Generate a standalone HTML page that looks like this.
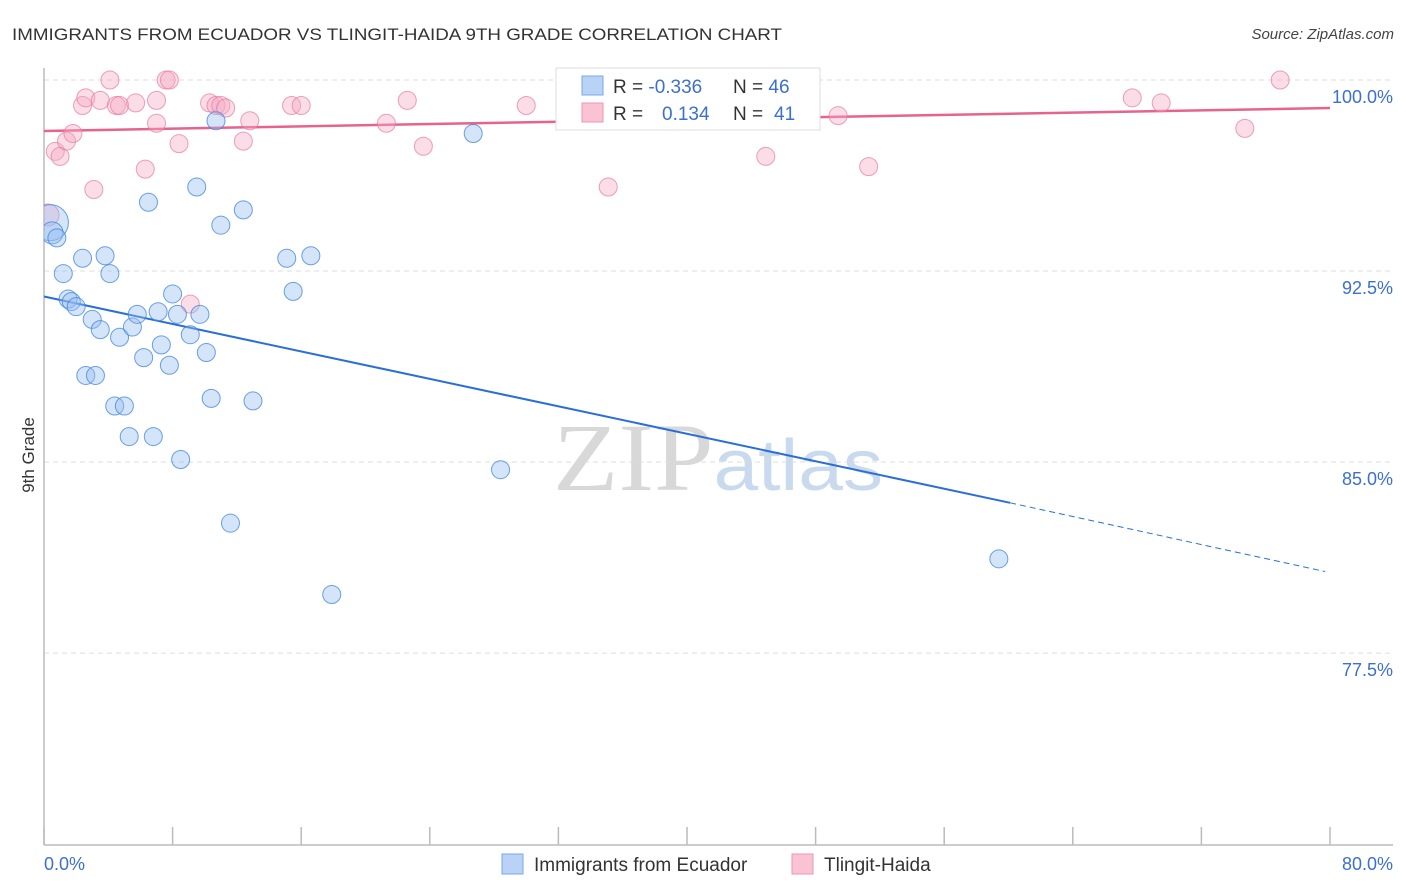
<!DOCTYPE html>
<html><head><meta charset="utf-8">
<style>
body{margin:0;background:#fff;font-family:"Liberation Sans",sans-serif;}
svg{display:block}
</style></head>
<body>
<svg id="chart" width="1406" height="892" viewBox="0 0 1406 892">
<defs><clipPath id="plot"><rect x="44" y="60" width="1360" height="785"/></clipPath></defs>
<text x="12" y="40" font-size="17" fill="#333" textLength="770" lengthAdjust="spacingAndGlyphs">IMMIGRANTS FROM ECUADOR VS TLINGIT-HAIDA 9TH GRADE CORRELATION CHART</text>
<text x="1394" y="39" font-size="15" fill="#444" font-style="italic" text-anchor="end">Source: ZipAtlas.com</text>
<text x="718" y="490" font-size="96" fill="#ddd" text-anchor="middle" font-family="Liberation Serif,serif" textLength="330" lengthAdjust="spacingAndGlyphs"><tspan fill="#d8d8d8">ZIP</tspan><tspan fill="#c9d9ee" font-family="Liberation Sans,sans-serif" font-size="72">atlas</tspan></text>
<g id="grid"></g>
<g id="axes"></g>
<g id="trends"></g>
<g id="points" clip-path="url(#plot)"></g>
<text transform="translate(34,455) rotate(-90)" font-size="17" fill="#333" text-anchor="middle">9th Grade</text>
<text x="44" y="870" font-size="18" fill="#3b6fd1">0.0%</text>
<text x="1393" y="870" font-size="18" fill="#3b6fd1" text-anchor="end">80.0%</text>
<g>
<rect x="556" y="68" width="264" height="62" fill="#fff" stroke="#ddd"/>
<rect x="582" y="76" width="21" height="19" fill="#b8d3f5" stroke="#7aa7e8"/>
<rect x="582" y="103" width="21" height="19" fill="#f9c3d3" stroke="#ef94b1"/>
<text x="613" y="93" font-size="19" fill="#333">R = <tspan fill="#3b6fd1">-0.336</tspan><tspan x="733">N = </tspan><tspan fill="#3b6fd1">46</tspan></text>
<text x="613" y="120" font-size="19" fill="#333">R = <tspan x="662" fill="#3b6fd1">0.134</tspan><tspan x="733">N = </tspan><tspan x="774" fill="#3b6fd1">41</tspan></text>
</g>
<g>
<rect x="502" y="854" width="21" height="20" fill="#b8d3f5" stroke="#7aa7e8"/>
<text x="534" y="871" font-size="19" fill="#333">Immigrants from Ecuador</text>
</g>
<g>
<rect x="792" y="854" width="21" height="20" fill="#f9c3d3" stroke="#ef94b1"/>
<text x="824" y="871" font-size="19" fill="#333">Tlingit-Haida</text>
</g>
</svg>
<script>
const yTicks=[100,92.5,85,77.5];
const yTickLabels=["100.0%","92.5%","85.0%","77.5%"];
const xTicks=[0,8,16,24,32,40,48,56,64,72,80];
const blueX=[0.4,0.5,0.8,1.2,2.4,3.8,4.1,1.5,1.7,2.0,3.0,3.5,4.7,5.5,5.8,7.1,8.0,8.3,9.7,9.1,7.3,6.2,7.8,10.1,2.6,3.2,4.4,5.0,5.3,6.8,8.5,10.4,13.0,11.6,17.9,6.5,9.5,11.0,12.4,10.7,15.1,16.6,15.5,26.7,28.4,59.4];
const blueY=[94.4,94.0,93.8,92.4,93.0,93.1,92.4,91.4,91.3,91.1,90.6,90.2,89.9,90.3,90.8,90.9,91.6,90.8,90.8,90.0,89.6,89.1,88.8,89.3,88.4,88.4,87.2,87.2,86.0,86.0,85.1,87.5,87.4,82.6,79.8,95.2,95.8,94.3,94.9,98.4,93.0,93.1,91.7,97.9,84.7,81.2];
const blueR=[18,11,9,9,9,9,9,9,9,9,9,9,9,9,9,9,9,9,9,9,9,9,9,9,9,9,9,9,9,9,9,9,9,9,9,9,9,9,9,9,9,9,9,9,9,9];
const pinkX=[0.25,0.7,1.0,1.4,1.8,3.1,2.4,2.6,3.5,4.5,4.7,5.7,4.1,6.3,7.0,7.0,7.6,7.8,8.4,9.1,10.3,10.7,11.0,11.3,12.4,12.8,15.4,16.0,21.3,22.6,23.6,30.0,35.1,36.6,44.9,49.4,51.3,67.7,69.5,74.7,76.9];
const pinkY=[94.7,97.2,97.0,97.6,97.9,95.7,99.0,99.3,99.2,99.0,99.0,99.1,100.0,96.5,99.2,98.3,100.0,100.0,97.5,91.2,99.1,99.0,99.0,98.9,97.6,98.4,99.0,99.0,98.3,99.2,97.4,99.0,95.8,100.0,97.0,98.6,96.6,99.3,99.1,98.1,100.0];
const blueTrend=[0,91.5,60.1,83.4,79.7,80.7];
const pinkTrend=[0,98.0,80,98.9];
const X=v=>44+v*16.075, Y=v=>80+(100-v)*25.47;
const NS="http://www.w3.org/2000/svg";
function mk(tag,attrs,parent){const e=document.createElementNS(NS,tag);for(const k in attrs)e.setAttribute(k,attrs[k]);parent.appendChild(e);return e;}
const grid=document.getElementById('grid'),axes=document.getElementById('axes'),tr=document.getElementById('trends'),pts=document.getElementById('points');
yTicks.forEach((t,i)=>{
 const l=mk('line',{x1:44,x2:1393,y1:Y(t),y2:Y(t),stroke:'#ddd','stroke-dasharray':'5,4'},grid);
 
 
 const tx=mk('text',{x:1393,y:Y(t)+23,'font-size':18,fill:'#3b6fd1','text-anchor':'end'},grid);
 tx.textContent=yTickLabels[i];
 
 
});
const ax=mk('line',{x1:44,x2:1393,y1:845,y2:845,stroke:'#bbb','stroke-width':1.5},axes);


const ay=mk('line',{x1:44,x2:44,y1:68,y2:845,stroke:'#bbb','stroke-width':1.5},axes);


xTicks.forEach(t=>{
 const l=mk('line',{x1:X(t),x2:X(t),y1:827,y2:845,stroke:'#bbb','stroke-width':1.5},axes);
 
 
});
const bt1=mk('line',{x1:X(blueTrend[0]),y1:Y(blueTrend[1]),x2:X(blueTrend[2]),y2:Y(blueTrend[3]),stroke:'#2a6fd6','stroke-width':2},tr);


const bt2=mk('line',{x1:X(blueTrend[2]),y1:Y(blueTrend[3]),x2:X(blueTrend[4]),y2:Y(blueTrend[5]),stroke:'#2a6fd6','stroke-width':1,'stroke-dasharray':'6,4'},tr);


const pt=mk('line',{x1:X(pinkTrend[0]),y1:Y(pinkTrend[1]),x2:X(pinkTrend[2]),y2:Y(pinkTrend[3]),stroke:'#e8638c','stroke-width':2.5},tr);


pinkX.forEach((x,i)=>{
 const c=mk('circle',{cx:X(x),cy:Y(pinkY[i]),r:i==0?11:9,fill:'rgba(245,170,195,0.4)',stroke:'rgba(232,120,160,0.7)','stroke-width':1},pts);
 
 
});
blueX.forEach((x,i)=>{
 const c=mk('circle',{cx:X(x),cy:Y(blueY[i]),r:blueR[i],fill:'rgba(150,190,240,0.4)',stroke:'rgba(60,130,220,0.75)','stroke-width':1},pts);
 
 
});
</script>
</body></html>
